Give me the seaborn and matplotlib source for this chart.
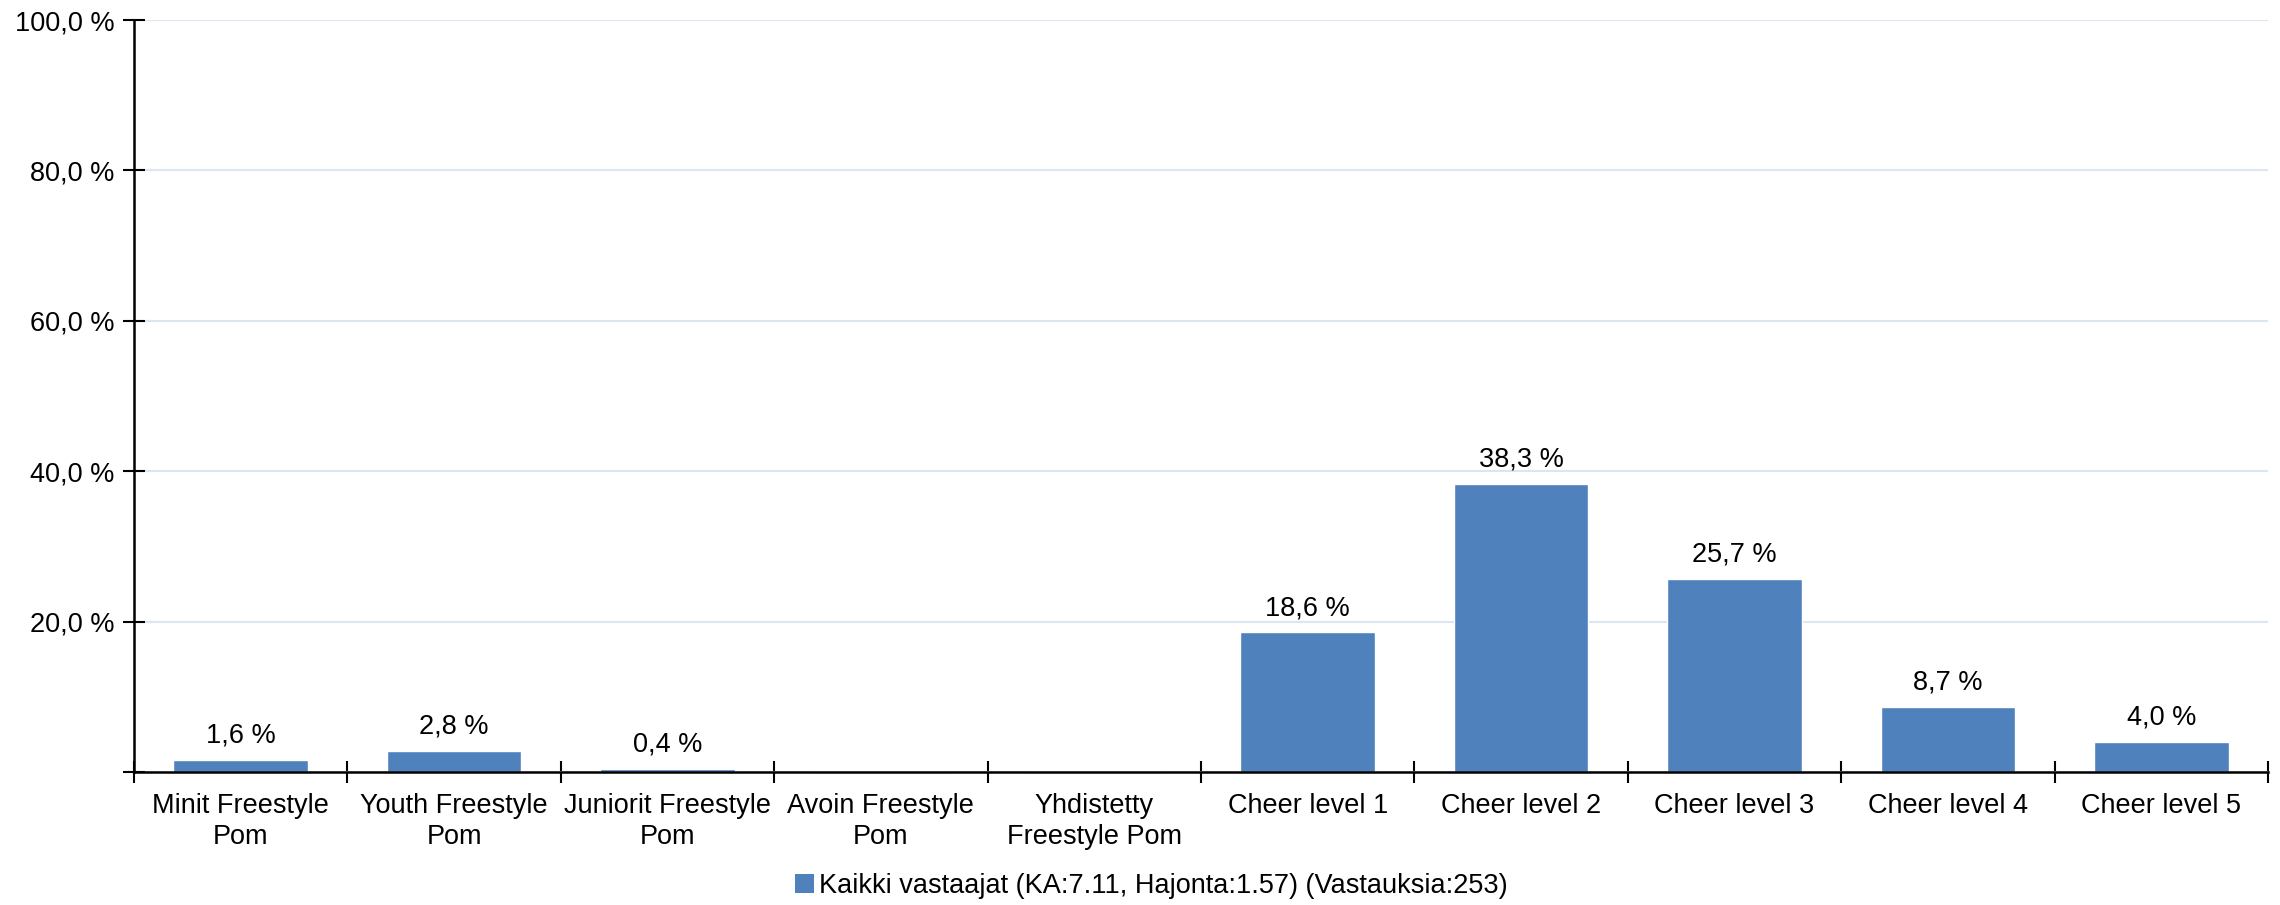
import matplotlib
matplotlib.use("Agg")
import matplotlib.pyplot as plt
import seaborn as sns
from matplotlib.patches import Patch


CATEGORIES = [
    "Minit Freestyle\nPom",
    "Youth Freestyle\nPom",
    "Juniorit Freestyle\nPom",
    "Avoin Freestyle\nPom",
    "Yhdistetty\nFreestyle Pom",
    "Cheer level 1",
    "Cheer level 2",
    "Cheer level 3",
    "Cheer level 4",
    "Cheer level 5",
]
VALUES = [1.6, 2.8, 0.4, 0.0, 0.0, 18.6, 38.3, 25.7, 8.7, 4.0]
Y_TICKS = [0, 20, 40, 60, 80, 100]
Y_TICK_LABELS = ["", "20,0 %", "40,0 %", "60,0 %", "80,0 %", "100,0 %"]
LEGEND_LABEL = "Kaikki vastaajat (KA:7.11, Hajonta:1.57) (Vastauksia:253)"

BAR_COLOR = "#4f81bd"
GRID_COLOR = "#dce6f2"
FONT_SIZE = 19.5


def main():
    sns.set_theme(style="white")
    plt.rcParams["font.family"] = ["Liberation Sans", "DejaVu Sans"]
    plt.rcParams["text.color"] = "black"
    plt.rcParams["xtick.labelcolor"] = "black"
    plt.rcParams["ytick.labelcolor"] = "black"

    fig = plt.figure(figsize=(22.8, 9.05), dpi=100)
    ax = fig.add_axes([134 / 2280, 1 - 772 / 905, 2134 / 2280, 752 / 905])

    sns.barplot(x=CATEGORIES, y=VALUES, color=BAR_COLOR, width=0.63,
                saturation=1, ax=ax)

    # value labels above bars, none for empty bars
    for i, v in enumerate(VALUES):
        if v > 0:
            ax.annotate(f"{v:.1f} %".replace(".", ","), (i, v),
                        xytext=(0, 8), textcoords="offset points",
                        ha="center", va="bottom", fontsize=FONT_SIZE,
                        color="black")

    ax.set_xlim(-0.5, len(CATEGORIES) - 0.5)
    ax.set_ylim(0, 100)

    # y axis
    ax.set_yticks(Y_TICKS)
    ax.set_yticklabels(Y_TICK_LABELS, fontsize=FONT_SIZE)
    ax.yaxis.grid(True, color=GRID_COLOR, linewidth=1.5)
    ax.set_axisbelow(True)

    # x axis: tick marks between categories, labels at centers
    ax.set_xticks([i - 0.5 for i in range(len(CATEGORIES) + 1)])
    ax.set_xticklabels([])
    ax.set_xticks(range(len(CATEGORIES)), minor=True)
    ax.set_xticklabels(CATEGORIES, minor=True, fontsize=FONT_SIZE,
                       linespacing=1.25)
    ax.tick_params(axis="x", which="minor", bottom=True, length=0, pad=15)
    ax.tick_params(axis="x", which="major", bottom=True, direction="inout",
                   length=16, width=1.5, color="black")
    ax.tick_params(axis="y", left=True, direction="inout", length=16,
                   width=1.5, color="black", pad=6)

    for side in ["top", "right"]:
        ax.spines[side].set_visible(False)
    for side in ["left", "bottom"]:
        ax.spines[side].set_color("black")
        ax.spines[side].set_linewidth(1.8)

    ax.set_xlabel("")
    ax.set_ylabel("")

    handle = Patch(facecolor=BAR_COLOR, edgecolor="none", label=LEGEND_LABEL)
    fig.legend(handles=[handle], loc="center",
               bbox_to_anchor=(0.505, 0.021), frameon=False,
               fontsize=FONT_SIZE, handlelength=0.7, handleheight=0.7,
               handletextpad=0.2, labelcolor="black")

    fig.savefig("out.png", dpi=100, facecolor="white")


if __name__ == "__main__":
    main()
